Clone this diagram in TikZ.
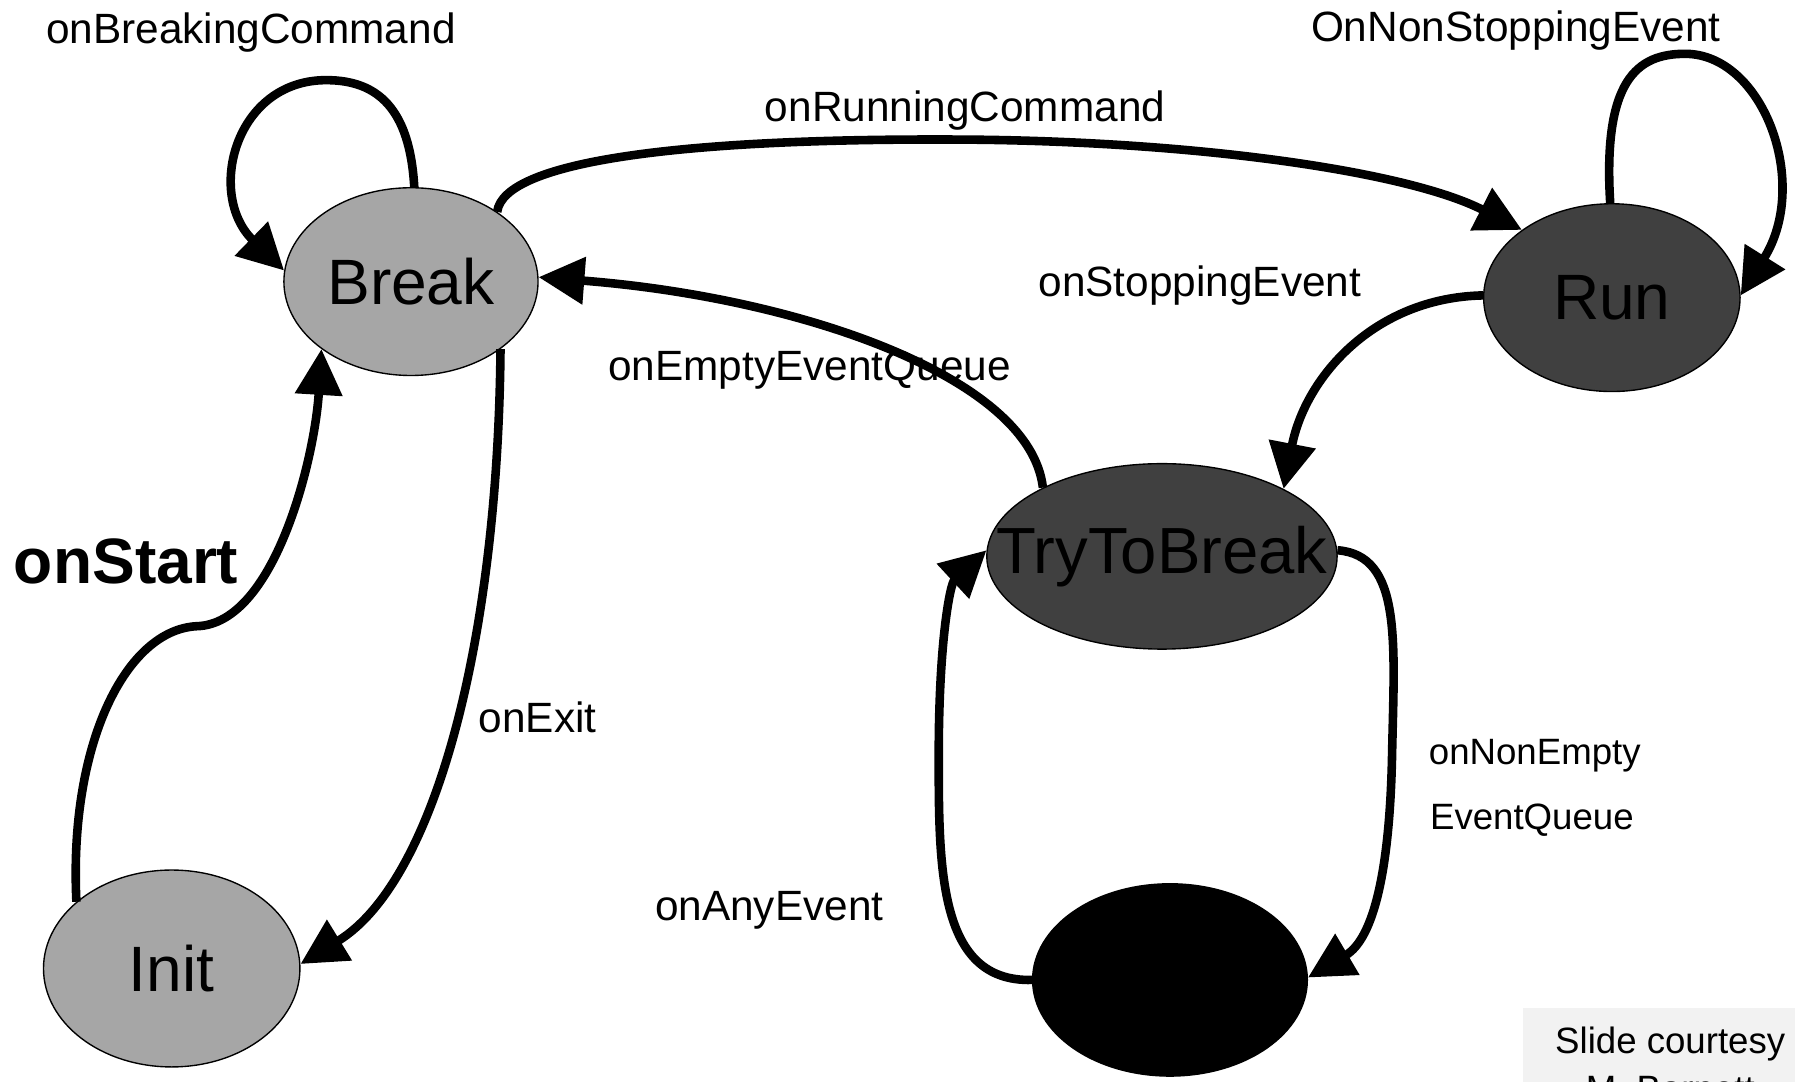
\documentclass[tikz,border=0pt]{standalone}
\usepackage{fontspec}
\setmainfont{Liberation Sans}
\usetikzlibrary{arrows.meta,shapes.geometric}
\definecolor{lightstate}{HTML}{A6A6A6}
\definecolor{darkstate}{HTML}{404040}
\definecolor{notebg}{HTML}{F2F2F2}
\tikzset{
  state/.style={ellipse, draw=black, line width=1.2pt, inner sep=0pt,
    font=\fontsize{56}{60}\selectfont},
  trans/.style={line width=7.5pt, -{Triangle[length=40pt,width=40pt]}},
  evlabel/.style={anchor=base west, inner sep=0pt, font=\fontsize{37}{44}\selectfont},
  smalllabel/.style={anchor=base west, inner sep=0pt, font=\fontsize{32}{38}\selectfont},
  notetext/.style={anchor=base, inner sep=0pt, font=\fontsize{32}{38}\selectfont},
}
\begin{document}
\begin{tikzpicture}[x=1pt,y=-1pt]
\useasboundingbox (0,0) rectangle (1568,945);
\clip (0,0) rectangle (1568,945);
\fill[white] (0,0) rectangle (1568,945);

% states
\node[state, fill=lightstate, minimum width=222pt, minimum height=164pt] (break) at (359,246) {\makebox[0pt]{Break}};
\node[state, fill=lightstate, minimum width=224pt, minimum height=172pt] (init) at (150,846) {\makebox[0pt]{Init}};
\node[state, fill=darkstate, minimum width=224pt, minimum height=164pt] (run) at (1408,260) {\makebox[0pt]{Run}};
\node[state, fill=darkstate, minimum width=306pt, minimum height=162pt] (try) at (1015,486) {\makebox[0pt]{\fontsize{57}{60}\selectfont TryToBreak}};
\node[state, fill=black, minimum width=240pt, minimum height=168pt] (black) at (1022,856) {};

% transitions
\draw[trans] (break.88) .. controls (358,95) and (330,70) .. (285,70)
  .. controls (205,70) and (180,170) .. (break.175);
\draw[trans] (break.39) .. controls (440,140) and (600,120) .. (850,122)
  .. controls (1050,124) and (1230,150) .. (run.143);
\draw[trans] (run.91) .. controls (1400,70) and (1430,47) .. (1472,47)
  .. controls (1540,47) and (1582,160) .. (run.1);
\draw[trans] (run.179) .. controls (1200,260) and (1140,330) .. (try.29);
\draw[trans] (try.150) .. controls (900,330) and (700,260) .. (break.2);
\draw[trans] (init.145) .. controls (60,650) and (110,550) .. (172,547)
  .. controls (240,545) and (275,400) .. (break.217);
\draw[trans] (break.323) .. controls (435,560) and (380,770) .. (init.2);
\draw[trans] (try.2) .. controls (1225,485) and (1218,560) .. (1216,660)
  .. controls (1214,760) and (1200,820) .. (black.1);
\draw[trans] (black.180) .. controls (820,858) and (820,760) .. (820,660)
  .. controls (820,560) and (830,510) .. (try.178);

% event labels
\node[evlabel] (lbreakcmd) at (40,38) {onBreakingCommand};
\node[evlabel] (lnonstop) at (1145,36) {OnNonStoppingEvent};
\node[evlabel] (lruncmd) at (668,106) {onRunningCommand};
\node[evlabel] (lstop) at (907,259) {onStoppingEvent};
\node[evlabel] (lempty) at (531,332) {onEmptyEventQueue};
\node[evlabel, font=\bfseries\fontsize{56}{60}\selectfont] (lstart) at (12,510) {onStart};
\node[evlabel] (lexit) at (418,640) {onExit};
\node[smalllabel] (lnonempty) at (1248,668) {onNonEmpty};
\node[smalllabel] (lqueue) at (1249,725) {EventQueue};
\node[evlabel] (lany) at (572,804) {onAnyEvent};

% credit note
\node[fill=notebg, anchor=north west, minimum width=240pt, minimum height=100pt, inner sep=0pt] (note) at (1330,880) {};
\node[notetext] (notea) at (1459,920) {Slide courtesy};
\node[notetext] (noteb) at (1459,962) {M. Barnett};
\end{tikzpicture}
\end{document}
